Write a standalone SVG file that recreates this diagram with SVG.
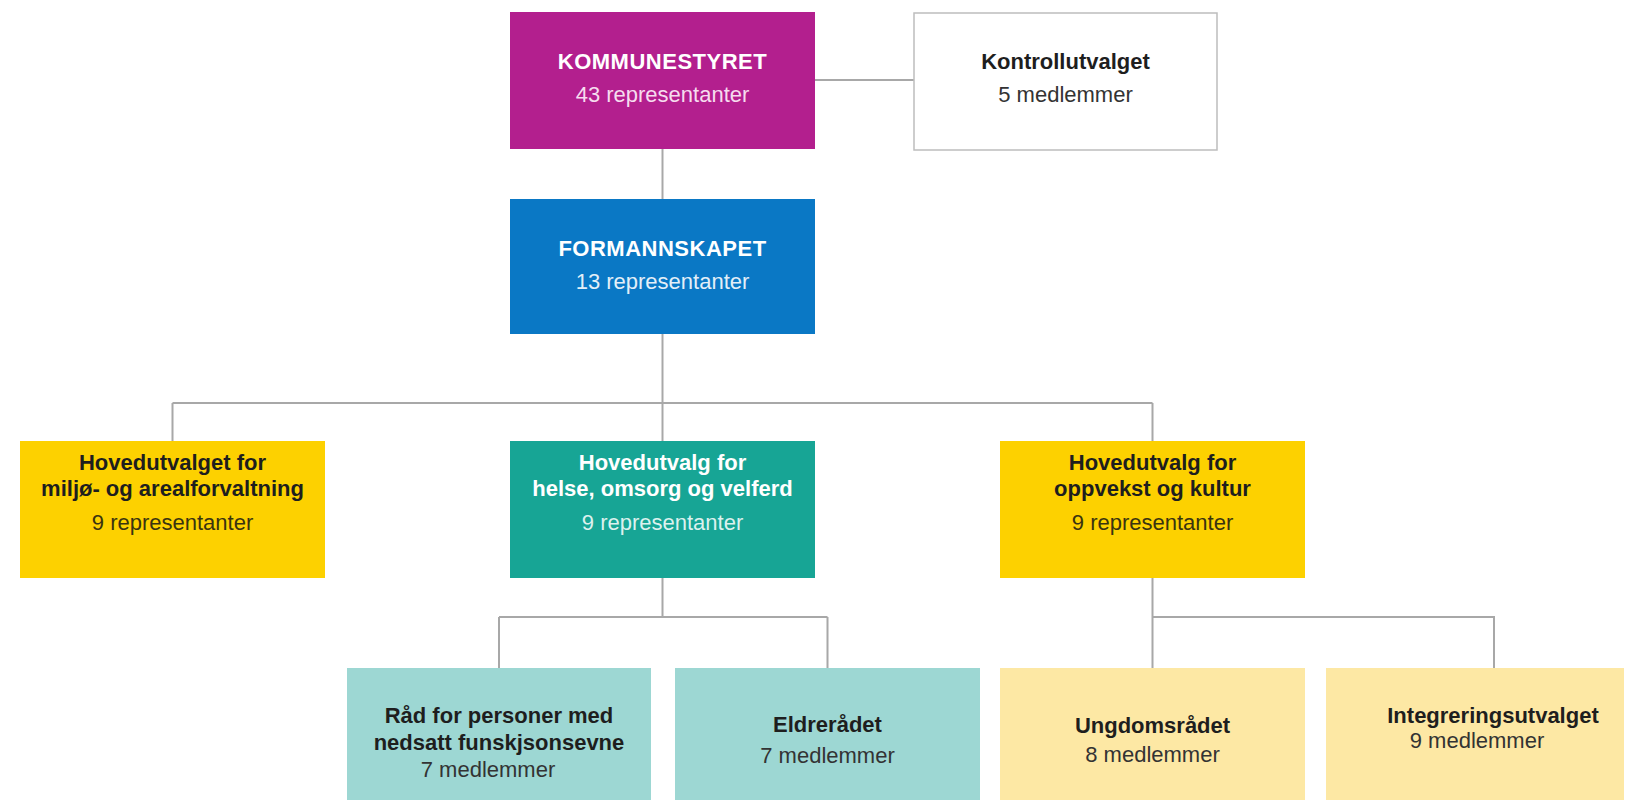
<svg xmlns="http://www.w3.org/2000/svg" width="1628" height="808" viewBox="0 0 1628 808">
<style>
text{font-family:"Liberation Sans",Arial,sans-serif;font-size:22px;text-anchor:middle}
.t{font-weight:bold}
.caps{letter-spacing:0.5px}
.w{fill:#ffffff}
.d{fill:#1e1e1e}
.ds{fill:#333333}
.dy{fill:#3a3410}
.con{stroke:#a8a8a8;stroke-width:2;fill:none}
</style>
<rect width="1628" height="808" fill="#ffffff"/>
<g id="connectors" class="con">
<path d="M815 80H914"/>
<path d="M662.5 149V199"/>
<path d="M662.5 334V441"/>
<path d="M172.5 403H1152.5M172.5 403V441M1152.5 403V441"/>
<path d="M662.5 578V617M499 617H827.5M499 617V668M827.5 617V668"/>
<path d="M1152.5 578V668M1152.5 617H1494V668"/>
</g>
<g id="kommunestyret">
<rect x="510" y="12" width="305" height="137" fill="#b31f8e"/>
<text x="662.5" y="69" class="t w caps">KOMMUNESTYRET</text>
<text x="662.5" y="102" style="fill:#f6dcef">43 representanter</text>
</g>
<g id="kontrollutvalget">
<rect x="914" y="13" width="303" height="137" fill="#ffffff" stroke="#bdbdbd" stroke-width="1.5"/>
<text x="1065.5" y="69" class="t d">Kontrollutvalget</text>
<text x="1065.5" y="102" class="ds">5 medlemmer</text>
</g>
<g id="formannskapet">
<rect x="510" y="199" width="305" height="135" fill="#0a78c5"/>
<text x="662.5" y="256" class="t w caps">FORMANNSKAPET</text>
<text x="662.5" y="289" style="fill:#e3eff8">13 representanter</text>
</g>
<g id="miljo">
<rect x="20" y="441" width="305" height="137" fill="#fdd100"/>
<text x="172.5" y="470" class="t d">Hovedutvalget for</text>
<text x="172.5" y="496" class="t d">miljø- og arealforvaltning</text>
<text x="172.5" y="530" class="dy">9 representanter</text>
</g>
<g id="helse">
<rect x="510" y="441" width="305" height="137" fill="#17a595"/>
<text x="662.5" y="470" class="t w">Hovedutvalg for</text>
<text x="662.5" y="496" class="t w">helse, omsorg og velferd</text>
<text x="662.5" y="530" style="fill:#dcf1ee">9 representanter</text>
</g>
<g id="oppvekst">
<rect x="1000" y="441" width="305" height="137" fill="#fdd100"/>
<text x="1152.5" y="470" class="t d">Hovedutvalg for</text>
<text x="1152.5" y="496" class="t d">oppvekst og kultur</text>
<text x="1152.5" y="530" class="dy">9 representanter</text>
</g>
<g id="rad">
<rect x="347" y="668" width="304" height="132" fill="#9dd7d3"/>
<text x="499" y="723" class="t d">Råd for personer med</text>
<text x="499" y="750" class="t d">nedsatt funskjsonsevne</text>
<text x="488" y="777" class="ds">7 medlemmer</text>
</g>
<g id="eldreradet">
<rect x="675" y="668" width="305" height="132" fill="#9dd7d3"/>
<text x="827.5" y="732" class="t d">Eldrerådet</text>
<text x="827.5" y="763" class="ds">7 medlemmer</text>
</g>
<g id="ungdomsradet">
<rect x="1000" y="668" width="305" height="132" fill="#fde8a4"/>
<text x="1152.5" y="733" class="t d">Ungdomsrådet</text>
<text x="1152.5" y="762" class="ds">8 medlemmer</text>
</g>
<g id="integrering">
<rect x="1326" y="668" width="298" height="132" fill="#fde8a4"/>
<text x="1493" y="723" class="t d">Integreringsutvalget</text>
<text x="1477" y="748" class="ds">9 medlemmer</text>
</g>
</svg>
